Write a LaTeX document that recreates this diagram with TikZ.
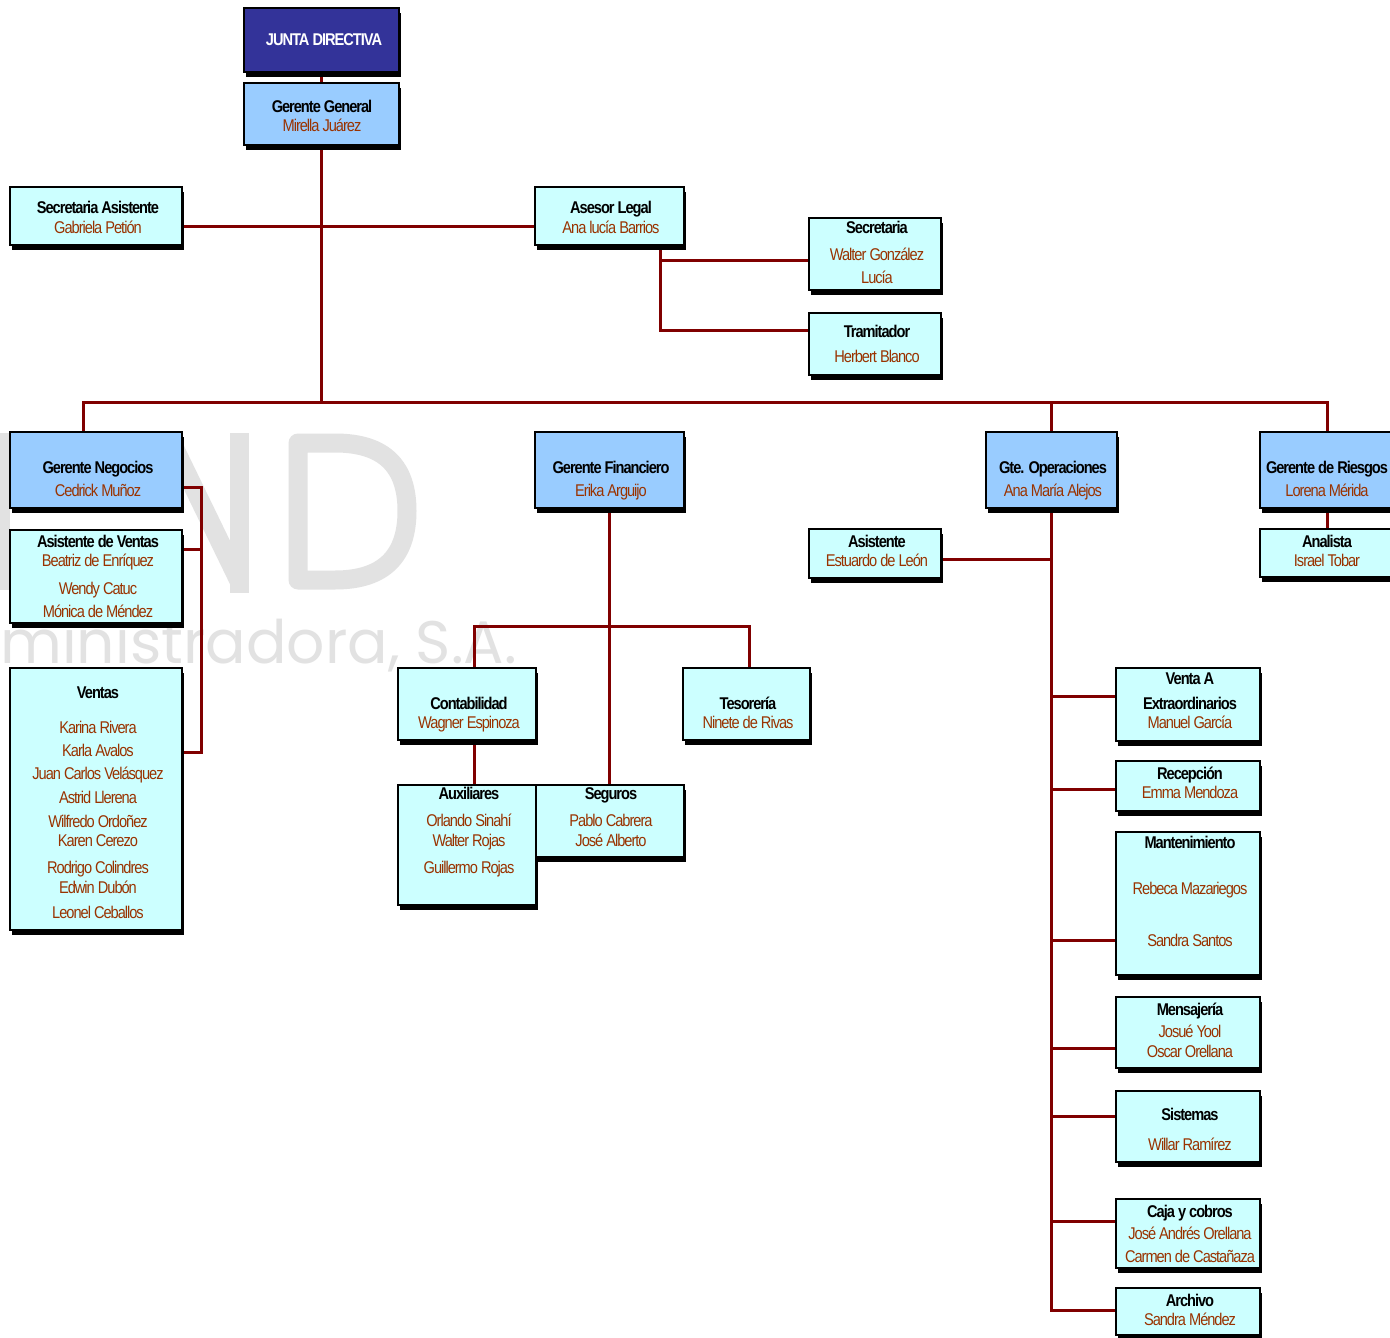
\documentclass[tikz,border=0pt]{standalone}
\usepackage{fontspec}
\setmainfont{Liberation Sans}[FakeStretch=0.86,LetterSpace=-6]
\newfontfamily\wmfont{Poppins}
\usetikzlibrary{shadows}
\definecolor{jdblue}{HTML}{333399}
\definecolor{lblue}{HTML}{99CCFF}
\definecolor{lcyan}{HTML}{CCFFFF}
\definecolor{nmcol}{HTML}{993300}
\definecolor{lncol}{HTML}{800000}
\definecolor{wmcol}{HTML}{E2E2E2}
\pgfdeclarelayer{wm}
\pgfdeclarelayer{bg}
\pgfsetlayers{wm,bg,main}
\begin{document}
\begin{tikzpicture}[x=1pt,y=-1pt,
  obox/.style={draw=black, line width=2.5pt, inner sep=0pt,
    drop shadow={shadow xshift=1.5pt,shadow yshift=-5pt,opacity=1,fill=black}},
  dk/.style={obox, fill=jdblue},
  lb/.style={obox, fill=lblue},
  cy/.style={obox, fill=lcyan},
  ttl/.style={anchor=base, inner sep=0pt, text=black, font=\fontsize{17}{20}\selectfont\bfseries},
  wt/.style={ttl, text=white},
  nm/.style={anchor=base, inner sep=0pt, text=nmcol, font=\fontsize{17}{20}\selectfont},
  conn/.style={draw=lncol, line width=3pt},
  wml/.style={draw=wmcol, line width=19pt}]
\useasboundingbox (0,0) rectangle (1390,1338);
\clip (0,0) rectangle (1390,1338);

% ---------- watermark ----------
\begin{pgfonlayer}{wm}
  \fill[white] (0,0) rectangle (1390,1338);
  \fill[wmcol] (-12,433) rectangle (10,590);
  \draw[wml] (172,443) -- (240,583);
  \draw[wml] (239,433) -- (239,593);
  \draw[wml, line join=round] (298,443) -- (298,580) -- (335,580)
     .. controls (385,580) and (407,555) .. (407,511)
     .. controls (407,467) and (385,443) .. (335,443) -- cycle;
  \node[anchor=base east, inner sep=0pt, text=wmcol, font=\wmfont\fontsize{60}{60}\selectfont] (wmtxt) at (517,663) {Administradora, S.A.};
\end{pgfonlayer}

% ---------- boxes ----------
\node[dk, minimum width=155pt, minimum height=64pt] (jd) at (321.5,40) {};
\node[lb, minimum width=155pt, minimum height=62pt] (gg) at (321.5,114) {};
\node[cy, minimum width=172pt, minimum height=58pt] (sa) at (96,216) {};
\node[cy, minimum width=149pt, minimum height=58pt] (al) at (609.5,216) {};
\node[cy, minimum width=132pt, minimum height=72pt] (sec) at (875,254) {};
\node[cy, minimum width=132pt, minimum height=62pt] (tra) at (875,344) {};
\node[lb, minimum width=172pt, minimum height=76pt] (gn) at (96,470) {};
\node[cy, minimum width=172pt, minimum height=93pt] (av) at (96,576.5) {};
\node[cy, minimum width=172pt, minimum height=262pt] (ven) at (96,799) {};
\node[lb, minimum width=149pt, minimum height=76pt] (gf) at (609.5,470) {};
\node[cy, minimum width=138pt, minimum height=72pt] (con) at (467,704) {};
\node[cy, minimum width=127pt, minimum height=72pt] (tes) at (746.5,704) {};
\node[cy, minimum width=138pt, minimum height=120pt] (aux) at (467,845) {};
\node[cy, minimum width=148pt, minimum height=72pt] (seg) at (610,821) {};
\node[lb, minimum width=131pt, minimum height=76pt] (go) at (1051.5,470) {};
\node[cy, minimum width=132pt, minimum height=49pt] (asi) at (875,553.5) {};
\node[lb, minimum width=134pt, minimum height=76pt] (gr) at (1327,470) {};
\node[cy, minimum width=134pt, minimum height=48pt] (ana) at (1327,553) {};
\node[cy, minimum width=144pt, minimum height=73pt] (vae) at (1188,704.5) {};
\node[cy, minimum width=144pt, minimum height=50pt] (rec) at (1188,786) {};
\node[cy, minimum width=144pt, minimum height=143pt] (man) at (1188,903.5) {};
\node[cy, minimum width=144pt, minimum height=71pt] (mens) at (1188,1032.5) {};
\node[cy, minimum width=144pt, minimum height=71pt] (sis) at (1188,1126.5) {};
\node[cy, minimum width=144pt, minimum height=69pt] (caja) at (1188,1233.5) {};
\node[cy, minimum width=144pt, minimum height=47pt] (arch) at (1188,1311.5) {};

% ---------- connectors ----------
\coordinate (bus) at (320,402);
\coordinate (h1) at (320,226);
\coordinate (alj) at (660,260);
\coordinate (alk) at (660,330);
\coordinate (bl) at (83,402);
\coordinate (br) at (1327,402);
\coordinate (gnb1) at (201,487);
\coordinate (gnb2) at (201,549);
\coordinate (gnb3) at (201,752);
\coordinate (fl) at (474,626);
\coordinate (fr) at (749,626);
\coordinate (sA) at (1051,559);
\coordinate (s1) at (1051,696);
\coordinate (s2) at (1051,789);
\coordinate (s3) at (1051,940);
\coordinate (s4) at (1051,1048);
\coordinate (s5) at (1051,1116);
\coordinate (s6) at (1051,1221);
\coordinate (s7) at (1051,1310);
\begin{pgfonlayer}{bg}
  \draw[conn] (jd.south) -- (gg.north);
  \draw[conn] (gg.south) -- (gg.south |- bus);
  \draw[conn] (sa.east |- h1) -- (al.west |- h1);
  \draw[conn] (alj |- al.south) -- (alk) -- (tra.west |- alk);
  \draw[conn] (alj) -- (sec.west |- alj);
  \draw[conn] (bl |- gn.north) -- (bl) -- (br) -- (br |- gr.north);
  \draw[conn] (go.north) -- (go.north |- bl);
  \draw[conn] (gn.east |- gnb1) -- (gnb1) -- (gnb3) -- (ven.east |- gnb3);
  \draw[conn] (av.east |- gnb2) -- (gnb2);
  \draw[conn] (gf.south) -- (gf.south |- seg.north);
  \draw[conn] (fl |- con.north) -- (fl) -- (fr) -- (fr |- tes.north);
  \draw[conn] (fl |- con.south) -- (fl |- aux.north);
  \draw[conn] (gr.south) -- (ana.north);
  \draw[conn] (go.south) -- (go.south |- s7) -- (arch.west |- s7);
  \draw[conn] (asi.east |- sA) -- (sA);
  \draw[conn] (s1) -- (vae.west |- s1);
  \draw[conn] (s2) -- (rec.west |- s2);
  \draw[conn] (s3) -- (man.west |- s3);
  \draw[conn] (s4) -- (mens.west |- s4);
  \draw[conn] (s5) -- (sis.west |- s5);
  \draw[conn] (s6) -- (caja.west |- s6);
\end{pgfonlayer}

% ---------- texts ----------
\node[wt] (tjd) at (324,46) {JUNTA DIRECTIVA};
\node[ttl] (tgg) at (322,112) {Gerente General};
\node[nm] (ngg) at (322,131) {Mirella Juárez};
\node[ttl] (tsa) at (98,213) {Secretaria Asistente};
\node[nm] (nsa) at (98,233) {Gabriela Petión};
\node[ttl] (tal) at (611,213) {Asesor Legal};
\node[nm] (nal) at (611,233) {Ana lucía Barrios};
\node[ttl] (tsec) at (877,233) {Secretaria};
\node[nm] (nsec1) at (877,260) {Walter González};
\node[nm] (nsec2) at (877,283) {Lucía};
\node[ttl] (ttra) at (877,337) {Tramitador};
\node[nm] (ntra) at (877,362) {Herbert Blanco};
\node[ttl] (tgn) at (98,473) {Gerente Negocios};
\node[nm] (ngn) at (98,496) {Cedrick Muñoz};
\node[ttl] (tav) at (98,547) {Asistente de Ventas};
\node[nm] (nav1) at (98,566) {Beatriz de Enríquez};
\node[nm] (nav2) at (98,594) {Wendy Catuc};
\node[nm] (nav3) at (98,617) {Mónica de Méndez};
\node[ttl] (tven) at (98,698) {Ventas};
\node[nm] (nv1) at (98,733) {Karina Rivera};
\node[nm] (nv2) at (98,756) {Karla Avalos};
\node[nm] (nv3) at (98,779) {Juan Carlos Velásquez};
\node[nm] (nv4) at (98,803) {Astrid Llerena};
\node[nm] (nv5) at (98,827) {Wilfredo Ordoñez};
\node[nm] (nv6) at (98,846) {Karen Cerezo};
\node[nm] (nv7) at (98,873) {Rodrigo Colindres};
\node[nm] (nv8) at (98,893) {Edwin Dubón};
\node[nm] (nv9) at (98,918) {Leonel Ceballos};
\node[ttl] (tgf) at (611,473) {Gerente Financiero};
\node[nm] (ngf) at (611,496) {Erika Arguijo};
\node[ttl] (tcon) at (469,709) {Contabilidad};
\node[nm] (ncon) at (469,728) {Wagner Espinoza};
\node[ttl] (ttes) at (748,709) {Tesorería};
\node[nm] (ntes) at (748,728) {Ninete de Rivas};
\node[ttl] (taux) at (469,799) {Auxiliares};
\node[nm] (nax1) at (469,826) {Orlando Sinahí};
\node[nm] (nax2) at (469,846) {Walter Rojas};
\node[nm] (nax3) at (469,873) {Guillermo Rojas};
\node[ttl] (tseg) at (611,799) {Seguros};
\node[nm] (nsg1) at (611,826) {Pablo Cabrera};
\node[nm] (nsg2) at (611,846) {José Alberto};
\node[ttl] (tgo) at (1053,473) {Gte. Operaciones};
\node[nm] (ngo) at (1053,496) {Ana María Alejos};
\node[ttl] (tasi) at (877,547) {Asistente};
\node[nm] (nasi) at (877,566) {Estuardo de León};
\node[ttl] (tgr) at (1327,473) {Gerente de Riesgos};
\node[nm] (ngr) at (1327,496) {Lorena Mérida};
\node[ttl] (tana) at (1327,547) {Analista};
\node[nm] (nana) at (1327,566) {Israel Tobar};
\node[ttl] (tvae1) at (1190,684) {Venta A};
\node[ttl] (tvae2) at (1190,709) {Extraordinarios};
\node[nm] (nvae) at (1190,728) {Manuel García};
\node[ttl] (trec) at (1190,779) {Recepción};
\node[nm] (nrec) at (1190,798) {Emma Mendoza};
\node[ttl] (tman) at (1190,848) {Mantenimiento};
\node[nm] (nman1) at (1190,894) {Rebeca Mazariegos};
\node[nm] (nman2) at (1190,946) {Sandra Santos};
\node[ttl] (tmens) at (1190,1015) {Mensajería};
\node[nm] (nmen1) at (1190,1037) {Josué Yool};
\node[nm] (nmen2) at (1190,1057) {Oscar Orellana};
\node[ttl] (tsis) at (1190,1120) {Sistemas};
\node[nm] (nsis) at (1190,1150) {Willar Ramírez};
\node[ttl] (tcaja) at (1190,1217) {Caja y cobros};
\node[nm] (ncj1) at (1190,1239) {José Andrés Orellana};
\node[nm] (ncj2) at (1190,1262) {Carmen de Castañaza};
\node[ttl] (tarch) at (1190,1306) {Archivo};
\node[nm] (narch) at (1190,1325) {Sandra Méndez};
\end{tikzpicture}
\end{document}
